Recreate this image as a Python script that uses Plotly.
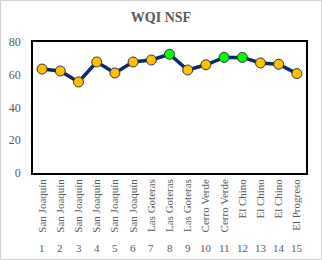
import plotly.graph_objects as go

numbers = [str(i) for i in range(1, 16)]
sites = ["San Joaquín", "San Joaquín", "San Joaquín", "San Joaquín", "San Joaquín", "San Joaquín",
         "Las Goteras", "Las Goteras", "Las Goteras", "Cerro Verde", "Cerro Verde",
         "El Chino", "El Chino", "El Chino", "El Progreso"]
wqi = [63.5, 62.3, 55.6, 67.8, 61.1, 67.8, 69.0, 72.5, 62.9, 66.1, 70.6, 70.6, 67.2, 66.4, 60.7]
good = [False, False, False, False, False, False, False, True, False, False, True, True, False, False, False]

colors = ["#00FF00" if g else "#FFC000" for g in good]
xs = list(range(1, 16))
FONT = "Liberation Serif, Times New Roman, serif"

fig = go.Figure()
fig.add_trace(go.Scatter(
    x=xs, y=wqi, mode="lines+markers",
    line=dict(color="#0E2A66", width=3.5),
    marker=dict(size=10, color=colors, line=dict(color="#333333", width=1)),
    showlegend=False, hoverinfo="skip"))

L, R, T, B = 33, 16, 42, 87
W, H = 322, 260
pw, ph = W - L - R, H - T - B

for x, n in zip(xs, numbers):
    fig.add_annotation(x=x, y=-(248 - 173) / ph, xref="x", yref="paper", text=n, showarrow=False,
                       yanchor="middle", font=dict(family=FONT, size=11, color="#595959"))

fig.add_shape(type="rect", xref="paper", yref="paper",
              x0=-(L - 0.5) / pw, x1=1 + (R - 0.5) / pw,
              y0=-(B - 0.5) / ph, y1=1 + (T - 0.5) / ph,
              line=dict(color="#D0D0D0", width=1), layer="below")

fig.update_layout(
    width=W, height=H,
    margin=dict(l=L, r=R, t=T, b=B, autoexpand=False),
    paper_bgcolor="white", plot_bgcolor="white",
    title=dict(text="<b>WQI NSF</b>", x=0.5, xanchor="center", y=1 - 17 / H, yanchor="middle",
               font=dict(family=FONT, size=14, color="#595959")),
    xaxis=dict(range=[0.5, 15.5], tickmode="array", tickvals=xs, ticktext=sites,
               tickangle=-90, showgrid=False, zeroline=False, showline=True, mirror=True,
               linecolor="black", linewidth=1.5, ticks="", automargin=False,
               tickfont=dict(family=FONT, size=11, color="#595959")),
    yaxis=dict(range=[0, 80], tickvals=[0, 20, 40, 60, 80], showgrid=False, zeroline=False,
               showline=True, mirror=True, linecolor="black", linewidth=1.5, ticks="",
               automargin=False, ticklabelstandoff=8,
               tickfont=dict(family=FONT, size=12, color="#595959")),
)

fig.write_html("out.html", config={"displayModeBar": False},
               post_script="document.body.style.margin='0';document.body.style.padding='0';")
